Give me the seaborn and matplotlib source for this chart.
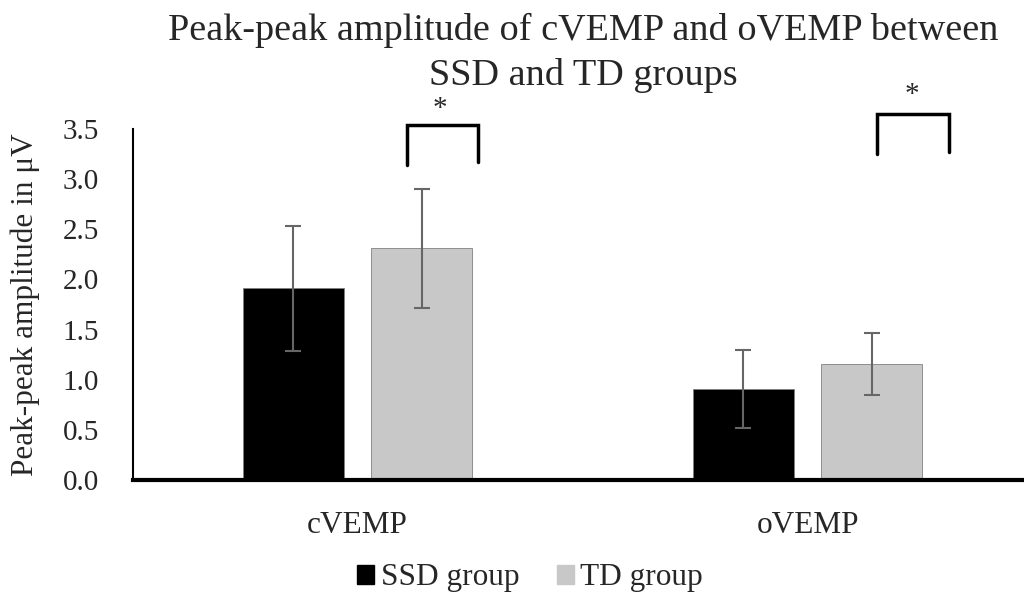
import numpy as np
import pandas as pd
import matplotlib.pyplot as plt
import seaborn as sns
from matplotlib.patches import Patch

# values
tests = ["cVEMP", "oVEMP"]
groups = ["SSD group", "TD group"]
ssd_mean = [1.91, 0.91]
td_mean = [2.31, 1.16]
ssd_sd = [0.62, 0.39]
td_sd = [0.59, 0.31]
colors = ["#000000", "#c8c8c8"]
yticks = [0.0, 0.5, 1.0, 1.5, 2.0, 2.5, 3.0, 3.5]
title_lines = ["Peak-peak amplitude of cVEMP and oVEMP between", "SSD and TD groups"]

# significance brackets: (x left, x right, y left leg, y top, y right leg), star position
brackets = [(0.109, 0.268, 3.14, 3.54, 3.17), (1.154, 1.314, 3.25, 3.65, 3.27)]
stars = [(0.184, 3.70), (1.232, 3.84)]

df = pd.DataFrame({
    "Test": tests * 2,
    "Group": [groups[0]] * 2 + [groups[1]] * 2,
    "Amp": ssd_mean + td_mean,
})

sns.set_style("white")
plt.rcParams["font.family"] = ["Liberation Serif", "DejaVu Serif"]

fig = plt.figure(figsize=(10.24, 5.96), dpi=100)
ax = fig.add_axes([132.5 / 1024, 1 - 480 / 596, 900 / 1024, 351 / 596])

sns.barplot(data=df, x="Test", y="Amp", hue="Group", palette=colors,
            width=0.571, gap=0.216, errorbar=None, legend=False, ax=ax,
            edgecolor="#808080", linewidth=0.6)

# error bars on bar centres
for cont, sds in zip(ax.containers, [ssd_sd, td_sd]):
    for bar, s in zip(cont, sds):
        ax.errorbar(bar.get_x() + bar.get_width() / 2, bar.get_height(), yerr=s,
                    color="#666666", capsize=6, elinewidth=1.5, capthick=1.5,
                    fmt="none")

for (x0, x1, yl, yt, yr), (sx, sy) in zip(brackets, stars):
    ax.plot([x0, x0, x1, x1], [yl, yt, yt, yr], color="black", lw=2.5,
            clip_on=False, solid_joinstyle="miter")
    ax.text(sx, sy, "*", ha="center", va="center", fontsize=21, clip_on=False)

ax.set_xlim(-0.5, 1.5)
ax.set_ylim(0, 3.5)
ax.set_yticks(yticks)
ax.set_yticklabels([f"{t:.1f}" for t in yticks])
ax.tick_params(axis="y", length=0, pad=24, labelsize=21)
ax.tick_params(axis="x", length=0, pad=22, labelsize=22.5)
ax.set_xlabel("")
ax.set_ylabel("Peak-peak amplitude in μV", fontsize=22.5, labelpad=16)

sns.despine(ax=ax)
ax.spines["left"].set_linewidth(1.5)
ax.spines["left"].set_color("black")
ax.spines["bottom"].set_linewidth(3)
ax.spines["bottom"].set_color("black")

# title as two separate lines
for txt, yb in zip(title_lines, [40, 85]):
    fig.text(583 / 1024, 1 - yb / 596, txt, ha="center", va="baseline", fontsize=27.5)

handles = [Patch(facecolor=c, edgecolor=c) for c in colors]
fig.legend(handles, groups, loc="center", bbox_to_anchor=(530 / 1024, 1 - 578 / 596),
           ncol=2, frameon=False, fontsize=22.5, handlelength=0.55, handleheight=0.55,
           handletextpad=0.2, columnspacing=1.2)

fig.savefig("out.png", dpi=100)
